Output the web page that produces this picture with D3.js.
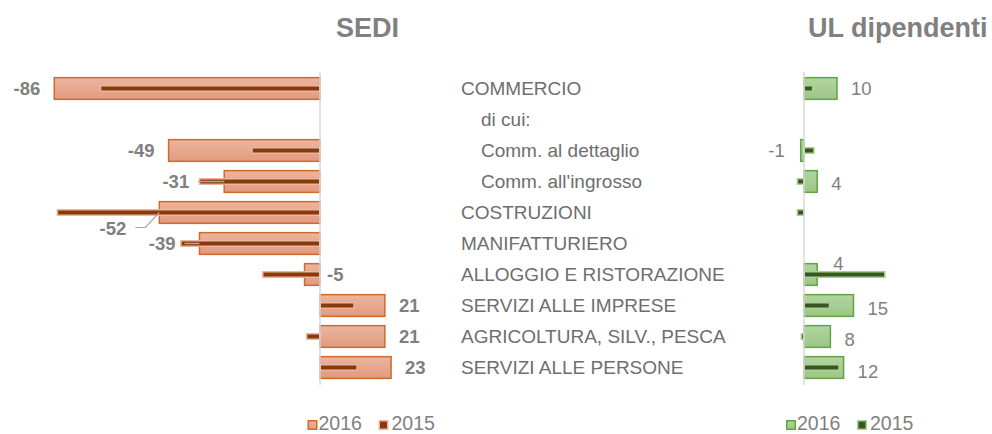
<!DOCTYPE html>
<html><head><meta charset="utf-8">
<script src="https://cdn.jsdelivr.net/npm/d3@7"></script>
<style>
html,body{margin:0;padding:0;background:#fff;}
svg{display:block;font-family:"Liberation Sans",Arial,sans-serif;}
</style></head>
<body>
<svg id="c" width="992" height="434"></svg>
<script>
const categories = ["COMMERCIO","di cui:","Comm. al dettaglio","Comm. all'ingrosso","COSTRUZIONI","MANIFATTURIERO","ALLOGGIO E RISTORAZIONE","SERVIZI ALLE IMPRESE","AGRICOLTURA, SILV., PESCA","SERVIZI ALLE PERSONE"];
const indented = [false,true,true,true,false,false,false,false,false,false];
const sedi2016 = [-86,null,-49,-31,-52,-39,-5,21,21,23];
const sedi2015 = [-71,null,-22,-39,-85,-45,-18.5,11,-4.3,12];
const ul2016 = [10,null,-1,4,0,0,4,15,8,12];
const ul2015 = [2.6,null,3,-2,-2,0,24.5,7.7,-0.8,10.6];
const titles = ["SEDI","UL dipendenti"];
const legendLabels = ["2016","2015"];

const svg = d3.select("#c");
const defs = svg.append("defs");
function grad(id, c1, c2){
  const g = defs.append("linearGradient").attr("id",id).attr("x1",0).attr("y1",0).attr("x2",0).attr("y2",1);
  g.append("stop").attr("offset","0%").attr("stop-color",c1);
  g.append("stop").attr("offset","100%").attr("stop-color",c2);
}
grad("gO","#ebb59f","#e39a7f");
grad("gG","#b3d5a0","#9bc685");

const y = d3.scaleBand().domain(categories).range([73,383]).paddingInner(0.3).paddingOuter(0.15);
const xL = d3.scaleLinear().domain([-90,30]).range([320-90*3.09, 320+30*3.09]);
const xR = d3.scaleLinear().domain([-5,30]).range([804-5*3.3, 804+30*3.3]);

const lblColor = "#808080";

// titles
svg.append("text").attr("x",367.5).attr("y",37).attr("text-anchor","middle")
  .attr("font-size",27).attr("font-weight","bold").attr("fill",lblColor).text(titles[0]);
svg.append("text").attr("x",808).attr("y",37)
  .attr("font-size",27).attr("font-weight","bold").attr("fill",lblColor).text(titles[1]);

const bh = y.bandwidth();
const th = 5.5;

function drawPanel(x, v16, v15, fillGrad, border, dark, lightBorder){
  const g = svg.append("g");
  const idx = d3.range(categories.length);
  g.selectAll("rect.a").data(idx.filter(i=>v16[i]!==null && v16[i]!==0)).join("rect")
    .attr("x",i=>Math.min(x(0),x(v16[i]))).attr("width",i=>Math.abs(x(v16[i])-x(0)))
    .attr("y",i=>y(categories[i])).attr("height",bh)
    .attr("fill",`url(#${fillGrad})`).attr("stroke",border).attr("stroke-width",1.5);
  g.selectAll("rect.b").data(idx.filter(i=>v15[i]!==null && v15[i]!==0)).join("rect")
    .attr("x",i=>Math.min(x(0),x(v15[i]))).attr("width",i=>Math.abs(x(v15[i])-x(0)))
    .attr("y",i=>y(categories[i])+bh/2-th/2).attr("height",th)
    .attr("fill",dark).attr("stroke",lightBorder).attr("stroke-width",1.5);
  g.append("line").attr("x1",x(0)).attr("x2",x(0)).attr("y1",72).attr("y2",385)
    .attr("stroke","#d9d9d9").attr("stroke-width",1.5);
  return g;
}

const gl = drawPanel(xL, sedi2016, sedi2015, "gO", "#d0692c", "#843c0c", "#f0b39b");
const gr = drawPanel(xR, ul2016, ul2015, "gG", "#62a443", "#375623", "#a9d08e");

// left labels (Excel-placed labels with leader lines)
const leftAdj = {"Comm. all'ingrosso":{dx:-21,dy:0,lead:"h"},"MANIFATTURIERO":{dx:-10,dy:0,lead:"h"},
  "COSTRUZIONI":{dx:-19,dy:16,lead:"d"},"ALLOGGIO E RISTORAZIONE":{flip:true}};
categories.forEach((c,i)=>{
  const v = sedi2016[i]; if(v===null) return;
  const cy = y(c)+bh/2;
  const a = leftAdj[c]||{};
  let xe, anchor;
  if(a.flip){ xe = xL(0)+7; anchor="start"; }
  else if(v<0){ xe = xL(v)-14+(a.dx||0); anchor="end"; }
  else { xe = xL(v)+14; anchor="start"; }
  const ly = cy+(a.dy||0);
  if(a.lead==="h"){
    gl.append("line").attr("x1",xe+9).attr("x2",xL(v)).attr("y1",cy).attr("y2",cy)
      .attr("stroke","#a6a6a6").attr("stroke-width",1.5);
  } else if(a.lead==="d"){
    gl.append("polyline").attr("points",`${xe+9},${ly-1} ${xe+19},${ly-1} ${xL(v)},${cy}`)
      .attr("fill","none").attr("stroke","#a6a6a6").attr("stroke-width",1.2);
  }
  gl.append("text").attr("x",xe).attr("y",ly).attr("dy","0.36em").attr("text-anchor",anchor)
    .attr("font-size",18.5).attr("font-weight","bold").attr("fill",lblColor).text(v);
});

// right labels
const rightAdj = {"ALLOGGIO E RISTORAZIONE":{dx:2,dy:-11},"Comm. all'ingrosso":{dy:2},
  "SERVIZI ALLE IMPRESE":{dy:3},"AGRICOLTURA, SILV., PESCA":{dy:3},"SERVIZI ALLE PERSONE":{dy:4}};
categories.forEach((c,i)=>{
  const v = ul2016[i]; if(v===null || v===0) return;
  const cy = y(c)+bh/2;
  const a = rightAdj[c]||{};
  const xe = v<0 ? xR(v)-16 : xR(v)+14+(a.dx||0);
  gr.append("text").attr("x",xe).attr("y",cy+(a.dy||0)).attr("dy","0.36em")
    .attr("text-anchor",v<0?"end":"start")
    .attr("font-size",18.5).attr("fill",lblColor).text(v);
});

// categories
categories.forEach((c,i)=>{
  svg.append("text").attr("x",indented[i]?481:461).attr("y",y(c)+bh/2).attr("dy","0.36em")
    .attr("font-size",19).attr("fill","#6e6e6e").text(c);
});

// legends
function legend(x0, fillGrad, border, dark, lightBorder, gap){
  const g = svg.append("g");
  g.append("rect").attr("x",x0+0.75).attr("y",420.75).attr("width",8.5).attr("height",8.5)
    .attr("fill",`url(#${fillGrad})`).attr("stroke",border).attr("stroke-width",1.5);
  g.append("text").attr("x",x0+11).attr("y",429.5).attr("font-size",19.5).attr("fill",lblColor).text(legendLabels[0]);
  g.append("rect").attr("x",x0+gap+0.75).attr("y",420.75).attr("width",8.5).attr("height",8.5)
    .attr("fill",dark).attr("stroke",lightBorder).attr("stroke-width",1.5);
  g.append("text").attr("x",x0+gap+13).attr("y",429.5).attr("font-size",19.5).attr("fill",lblColor).text(legendLabels[1]);
}
legend(307.5, "gO", "#d0692c", "#843c0c", "#f0b39b", 71);
legend(786, "gG", "#62a443", "#375623", "#a9d08e", 71);
</script>
</body></html>
